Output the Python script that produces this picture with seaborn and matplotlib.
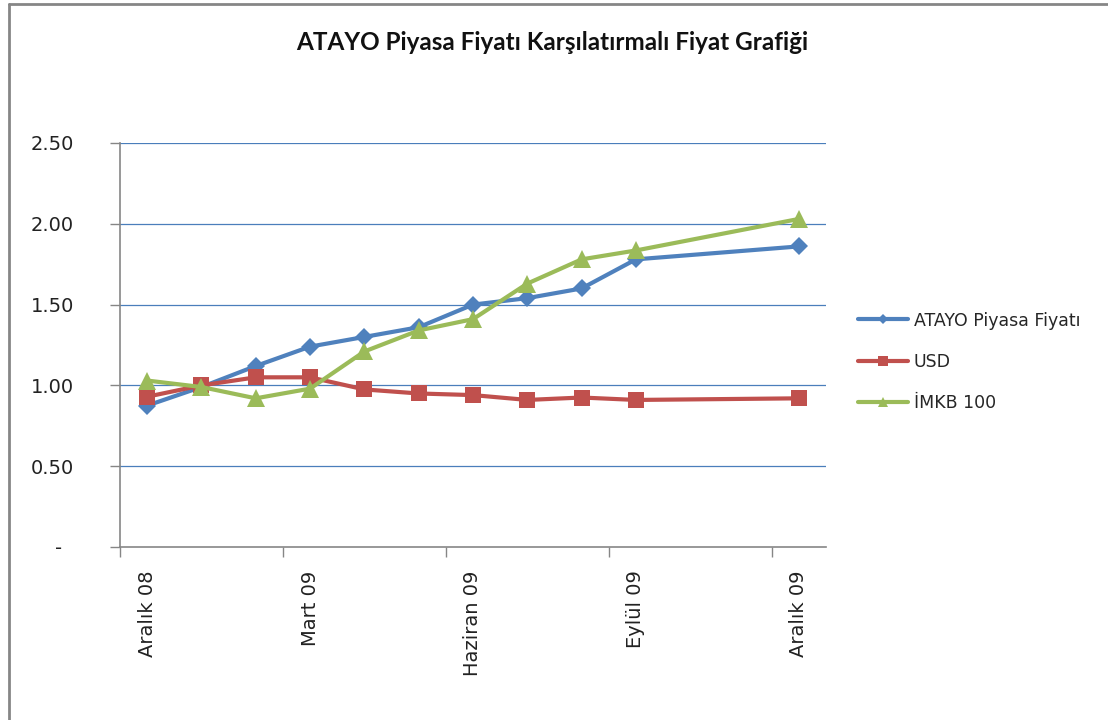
import matplotlib
matplotlib.use("Agg")
import matplotlib.pyplot as plt
import seaborn as sns
import pandas as pd
import numpy as np
from matplotlib.lines import Line2D

# ---- data ----
dates = ["2008-12-01", "2009-01-01", "2009-02-01", "2009-03-01", "2009-04-01",
         "2009-05-01", "2009-06-01", "2009-07-01", "2009-08-01", "2009-09-01",
         "2009-12-01"]
atayo = [0.875, 0.99, 1.12, 1.24, 1.30, 1.36, 1.50, 1.54, 1.60, 1.78, 1.86]
usd = [0.93, 1.00, 1.05, 1.05, 0.975, 0.95, 0.94, 0.91, 0.925, 0.91, 0.92]
imkb = [1.03, 0.99, 0.92, 0.98, 1.21, 1.34, 1.41, 1.63, 1.78, 1.835, 2.03]
series_names = ["ATAYO Piyasa Fiyatı", "USD", "İMKB 100"]
tick_dates = ["2008-12-01", "2009-03-01", "2009-06-01", "2009-09-01", "2009-12-01"]
tick_labels = ["Aralık 08", "Mart 09", "Haziran 09", "Eylül 09", "Aralık 09"]
y_ticks = [0.0, 0.5, 1.0, 1.5, 2.0, 2.5]
y_labels = ["-  ", "0.50", "1.00", "1.50", "2.00", "2.50"]
title = "ATAYO Piyasa Fiyatı Karşılatırmalı Fiyat Grafiği"

colors = ["#4F81BD", "#C0504D", "#9BBB59"]
markers = ["D", "s", "^"]
msizes = [9, 12, 12.5]

sns.set_theme(style="white")
plt.rcParams['font.family'] = ['DejaVu Sans']

def month_index(ds):
    d = pd.to_datetime(pd.Series(ds))
    return ((d.dt.year - 2008) * 12 + d.dt.month - 12).to_numpy()

x = month_index(dates)
df = pd.DataFrame({"x": x, series_names[0]: atayo, series_names[1]: usd, series_names[2]: imkb})

fig = plt.figure(figsize=(11.08, 7.2), dpi=100)
ax = fig.add_axes([120/1108, 1 - 547/720, (826 - 120)/1108, (547 - 143)/720])

for name, c, m, ms in zip(series_names, colors, markers, msizes):
    sns.lineplot(data=df, x="x", y=name, ax=ax, color=c, marker=m, markersize=ms,
                 linewidth=3.0, markeredgewidth=0, legend=False, zorder=3)

ax.set_xlabel("")
ax.set_ylabel("")

# y axis
ax.set_yticks(y_ticks)
ax.set_yticklabels(y_labels, fontsize=14, color="#222222")
ax.tick_params(axis="y", direction="out", length=7, width=1, color="#868686", pad=26, left=True)
for v in y_ticks[1:]:
    ax.axhline(v, color="#4A7EBB", linewidth=0.9, zorder=1)

# x axis: tick marks between labels, labels centered under categories
tpos = month_index(tick_dates)
ax.set_xticks(tpos - 0.5)
ax.set_xticklabels([])
ax.tick_params(axis="x", which="major", direction="out", length=7, width=1, color="#868686", bottom=True)
ax.set_xticks(tpos, minor=True)
ax.set_xticklabels(tick_labels, minor=True, rotation=90, fontsize=14, color="#222222", ha="center", va="top")
ax.tick_params(axis="x", which="minor", length=0, pad=17)

ax.set_xlim(-0.5, 12.5)
ax.set_ylim(0, 2.5)

for s in ["top", "right"]:
    ax.spines[s].set_visible(False)
for s in ["left", "bottom"]:
    ax.spines[s].set_color("#868686")
    ax.spines[s].set_linewidth(1.2)
ax.grid(False)

# legend
handles = [Line2D([0], [0], color=c, marker=m, markersize=ms * 0.6, linewidth=3.0, markeredgewidth=0)
           for c, m, ms in zip(colors, markers, msizes)]
fig.legend(handles, series_names, loc="center left", bbox_to_anchor=(858/1108, 1 - 362/720),
           frameon=False, fontsize=12.5, handlelength=2.9, handletextpad=0.3,
           labelspacing=1.35, borderpad=0, borderaxespad=0)

fig.text(552/1108, 1 - 42/720, title, ha="center", va="center", fontsize=17.5,
         fontweight="bold", family=["Lato", "DejaVu Sans"], color="#111111")

# outer frame
fig.add_artist(Line2D([9/1108, 9/1108], [0, 1 - 4/720], transform=fig.transFigure, color="#868686", linewidth=2))
fig.add_artist(Line2D([9/1108, 1], [1 - 4/720, 1 - 4/720], transform=fig.transFigure, color="#868686", linewidth=2))

fig.savefig("out.png", dpi=100, facecolor="white")
